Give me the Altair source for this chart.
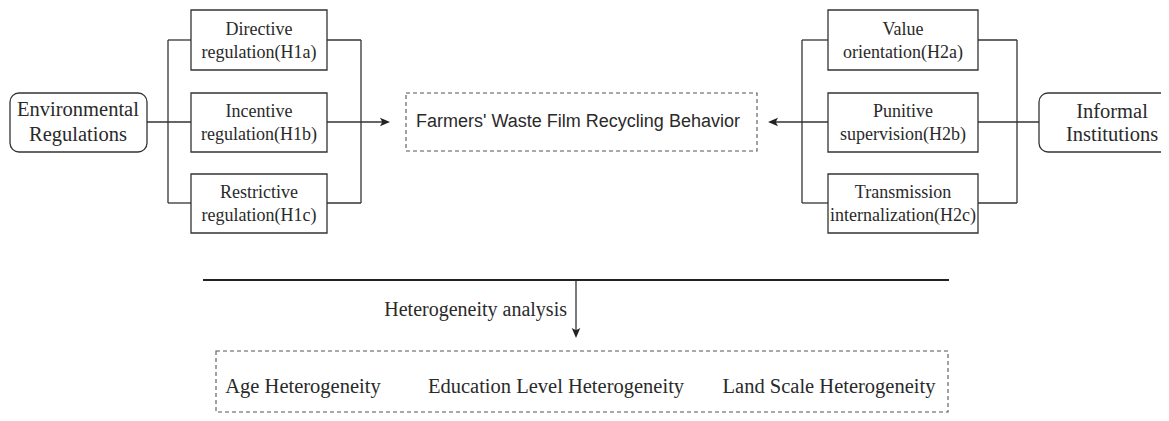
import altair as alt
import pandas as pd

# ---- content ----
left_labels = [["Directive", "regulation(H1a)"],
               ["Incentive", "regulation(H1b)"],
               ["Restrictive", "regulation(H1c)"]]
right_labels = [["Value", "orientation(H2a)"],
                ["Punitive", "supervision(H2b)"],
                ["Transmission", "internalization(H2c)"]]
source_left = ["Environmental", "Regulations"]
source_right = ["Informal", "Institutions"]
outcome = "Farmers' Waste Film Recycling Behavior"
analysis_label = "Heterogeneity analysis"
heterogeneity = ["Age Heterogeneity", "Education Level Heterogeneity", "Land Scale Heterogeneity"]

# ---- layout (pixel coordinates of the figure) ----
row_top = [10, 93, 174]
row_bot = [70, 152, 233]
line1_y = [30, 112, 193]
line2_y = [53, 135, 216]
LX = (191, 327)
RX = (828, 978)
MID = 122
INK = "#333333"
SERIF = "Liberation Serif"
SANS = "Liberation Sans"

xs = alt.Scale(domain=[8, 1161], nice=False, zero=False)
ys = alt.Scale(domain=[8, 413], nice=False, zero=False, reverse=True)


def enc_rect():
    return dict(x=alt.X("x0:Q", scale=xs, axis=None), x2="x1:Q",
                y=alt.Y("y0:Q", scale=ys, axis=None), y2="y1:Q")


# solid boxes
boxes = []
for t, b in zip(row_top, row_bot):
    boxes.append(dict(x0=LX[0], x1=LX[1], y0=t, y1=b))
    boxes.append(dict(x0=RX[0], x1=RX[1], y0=t, y1=b))
boxes_df = pd.DataFrame(boxes)
box_layer = alt.Chart(boxes_df).mark_rect(fill="white", stroke=INK, strokeWidth=1.3).encode(**enc_rect())

round_df = pd.DataFrame([dict(x0=10, x1=147, y0=93, y1=152),
                         dict(x0=1039, x1=1185, y0=93, y1=152)])
round_layer = alt.Chart(round_df).mark_rect(fill="white", stroke=INK, strokeWidth=1.3,
                                            cornerRadius=9).encode(**enc_rect())

dash_df = pd.DataFrame([dict(x0=406, x1=757, y0=93, y1=151),
                        dict(x0=216, x1=948, y0=351, y1=412)])
dash_layer = alt.Chart(dash_df).mark_rect(fill="white", stroke="#555555", strokeWidth=1.1,
                                          strokeDash=[4, 3]).encode(**enc_rect())

# connector lines
segs = [
    (147, MID, 191, MID),
    (168, 40, 168, 203), (168, 40, 191, 40), (168, 203, 191, 203),
    (361, 40, 361, 203), (327, 40, 361, 40), (327, 203, 361, 203),
    (327, MID, 386, MID),
    (772, MID, 828, MID),
    (802, 40, 802, 203), (802, 40, 828, 40), (802, 203, 828, 203),
    (1017, 40, 1017, 203), (978, 40, 1017, 40), (978, 203, 1017, 203),
    (978, MID, 1039, MID),
    (576, 280, 576, 333),
]
seg_df = pd.DataFrame(segs, columns=["x0", "y0", "x1", "y1"])
seg_layer = alt.Chart(seg_df).mark_rule(color=INK, strokeWidth=1.3).encode(**enc_rect())

thick_df = pd.DataFrame([dict(x0=203, y0=280, x1=949, y1=280)])
thick_layer = alt.Chart(thick_df).mark_rule(color="#222222", strokeWidth=2).encode(**enc_rect())

# arrow heads
heads = [
    (385, MID, "M 1 0 L -1 -0.85 L -0.55 0 L -1 0.85 Z"),
    (773, MID, "M -1 0 L 1 -0.85 L 0.55 0 L 1 0.85 Z"),
    (576, 333, "M 0 1 L -0.85 -1 L 0 -0.55 L 0.85 -1 Z"),
]
head_layers = []
for hx, hy, path in heads:
    hdf = pd.DataFrame([dict(x=hx, y=hy)])
    head_layers.append(alt.Chart(hdf).mark_point(shape=path, filled=True, size=100, color="#222222",
                                                 opacity=1).encode(
        x=alt.X("x:Q", scale=xs, axis=None), y=alt.Y("y:Q", scale=ys, axis=None)))

# texts
serif_rows = []
cxL = (LX[0] + LX[1]) / 2
cxR = (RX[0] + RX[1]) / 2
for (a, b), y1, y2 in zip(left_labels, line1_y, line2_y):
    serif_rows += [dict(x=cxL, y=y1, t=a), dict(x=cxL, y=y2, t=b)]
for (a, b), y1, y2 in zip(right_labels, line1_y, line2_y):
    serif_rows += [dict(x=cxR, y=y1, t=a), dict(x=cxR, y=y2, t=b)]
serif_df = pd.DataFrame(serif_rows)
serif_layer = alt.Chart(serif_df).mark_text(font=SERIF, fontSize=18, color="#2a2a2a",
                                            baseline="middle", align="center").encode(
    x=alt.X("x:Q", scale=xs, axis=None), y=alt.Y("y:Q", scale=ys, axis=None), text="t:N")

big_rows = [dict(x=78, y=110, t=source_left[0]), dict(x=78, y=135, t=source_left[1]),
            dict(x=1112, y=112, t=source_right[0]), dict(x=1112, y=135, t=source_right[1])]
for t, cx in zip(heterogeneity, [303, 556, 829]):
    big_rows.append(dict(x=cx, y=387, t=t))
big_df = pd.DataFrame(big_rows)
big_layer = alt.Chart(big_df).mark_text(font=SERIF, fontSize=20.5, color="#2a2a2a",
                                        baseline="middle", align="center").encode(
    x=alt.X("x:Q", scale=xs, axis=None), y=alt.Y("y:Q", scale=ys, axis=None), text="t:N")

ana_df = pd.DataFrame([dict(x=567, y=310, t=analysis_label)])
ana_layer = alt.Chart(ana_df).mark_text(font=SERIF, fontSize=20, color="#2a2a2a",
                                        baseline="middle", align="right").encode(
    x=alt.X("x:Q", scale=xs, axis=None), y=alt.Y("y:Q", scale=ys, axis=None), text="t:N")

out_df = pd.DataFrame([dict(x=578, y=122, t=outcome)])
out_layer = alt.Chart(out_df).mark_text(font=SANS, fontSize=18, color="#2a2a2a",
                                        baseline="middle", align="center").encode(
    x=alt.X("x:Q", scale=xs, axis=None), y=alt.Y("y:Q", scale=ys, axis=None), text="t:N")

chart = alt.layer(seg_layer, thick_layer, box_layer, round_layer, dash_layer,
                  *head_layers, serif_layer, big_layer, ana_layer, out_layer).properties(
    width=1153, height=405, padding=0, autosize=alt.AutoSizeParams(type="none"),
    background="white"
).configure_view(stroke=None)

chart.save("out.html", embed_options={"renderer": "svg", "actions": False})
